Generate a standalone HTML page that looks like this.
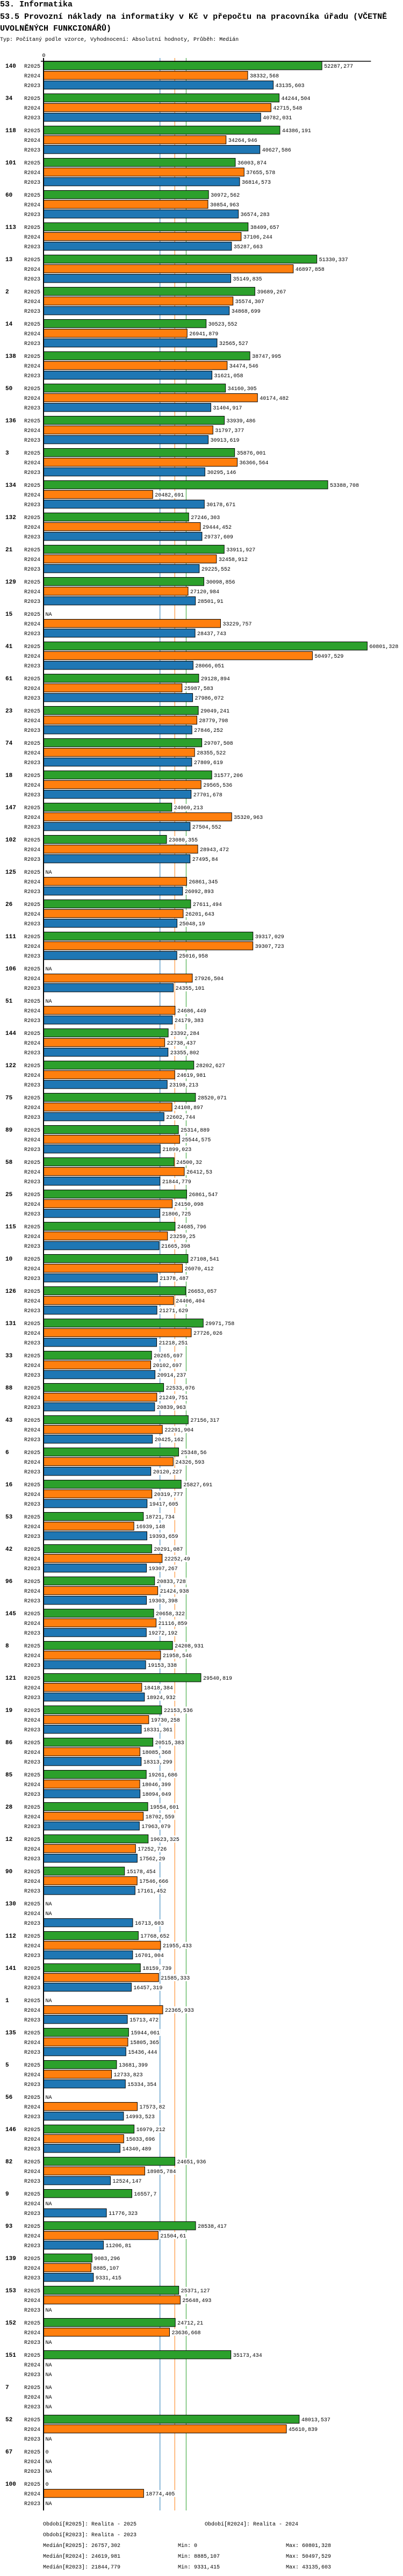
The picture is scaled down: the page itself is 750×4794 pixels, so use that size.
<!DOCTYPE html>
<html><head><meta charset="utf-8"><style>
body{margin:0;background:#fff;}
svg{display:block;font-family:"Liberation Mono","DejaVu Sans Mono",monospace;}
</style></head><body>
<svg id="chart" width="750" height="4794" viewBox="0 0 750 4794" xmlns="http://www.w3.org/2000/svg">
<text x="0" y="12" font-size="15" font-weight="bold">53. Informatika</text>
<text x="0" y="35" font-size="15" font-weight="bold">53.5 Provozní náklady na informatiky v Kč v přepočtu na pracovníka úřadu (VČETNĚ</text>
<text x="0" y="57" font-size="15" font-weight="bold">UVOLNĚNÝCH FUNKCIONÁŘŮ)</text>
<text x="0" y="76" font-size="10">Typ: Počítaný podle vzorce, Vyhodnocení: Absolutní hodnoty, Průběh: Medián</text>
<g id="plot"></g>
<g id="footer" font-size="10">
<text x="80" y="4700">Období[R2025]: Realita - 2025</text>
<text x="381" y="4700">Období[R2024]: Realita - 2024</text>
<text x="80" y="4720">Období[R2023]: Realita - 2023</text>
<text x="80" y="4740">Medián[R2025]: 26757,302</text>
<text x="331" y="4740">Min: 0</text>
<text x="532" y="4740">Max: 60801,328</text>
<text x="80" y="4760">Medián[R2024]: 24619,981</text>
<text x="331" y="4760">Min: 8885,107</text>
<text x="532" y="4760">Max: 50497,529</text>
<text x="80" y="4780">Medián[R2023]: 21844,779</text>
<text x="331" y="4780">Min: 9331,415</text>
<text x="532" y="4780">Max: 43135,603</text>
</g>
</svg>
<script>
const categories = ["140","34","118","101","60","113","13","2","14","138","50","136","3","134","132","21","129","15","41","61","23","74","18","147","102","125","26","111","106","51","144","122","75","89","58","25","115","10","126","131","33","88","43","6","16","53","42","96","145","8","121","19","86","85","28","12","90","130","112","141","1","135","5","56","146","82","9","93","139","153","152","151","7","52","67","100"];
const series2025 = [52287.277,44244.504,44386.191,36003.874,30972.562,38409.657,51330.337,39689.267,30523.552,38747.995,34160.305,33939.486,35876.001,53388.708,27246.303,33911.927,30098.856,null,60801.328,29128.894,29049.241,29707.508,31577.206,24060.213,23080.355,null,27611.494,39317.029,null,null,23392.284,28202.627,28520.071,25314.889,24500.32,26861.547,24685.796,27108.541,26653.057,29971.758,20265.697,22533.076,27156.317,25348.56,25827.691,18721.734,20291.087,20833.728,20658.322,24208.931,29540.819,22153.536,20515.383,19261.686,19554.601,19623.325,15178.454,null,17768.652,18159.739,null,15944.061,13681.399,null,16979.212,24651.936,16557.7,28538.417,9083.296,25371.127,24712.21,35173.434,null,48013.537,0,0];
const series2024 = [38332.568,42715.548,34264.946,37655.578,30854.963,37106.244,46897.858,35574.307,26941.879,34474.546,40174.482,31797.377,36366.564,20482.691,29444.452,32458.912,27120.984,33229.757,50497.529,25987.583,28779.798,28355.522,29565.536,35320.963,28943.472,26861.345,26201.643,39307.723,27926.504,24686.449,22738.437,24619.981,24108.897,25544.575,26412.53,24150.098,23259.25,26070.412,24406.404,27726.026,20102.697,21249.751,22291.904,24326.593,20319.777,16939.148,22252.49,21424.938,21116.859,21958.546,18418.384,19730.258,18085.368,18046.399,18702.559,17252.726,17546.666,null,21955.433,21585.333,22365.933,15805.365,12733.823,17573.82,15033.696,18985.784,null,21504.61,8885.107,25648.493,23636.668,null,null,45610.839,null,18774.405];
const series2023 = [43135.603,40782.031,40627.586,36814.573,36574.283,35287.663,35149.835,34868.699,32565.527,31621.058,31404.917,30913.619,30295.146,30178.671,29737.609,29225.552,28501.91,28437.743,28066.051,27986.072,27846.252,27809.619,27701.678,27504.552,27495.84,26092.893,25048.19,25016.958,24355.101,24179.383,23355.802,23198.213,22602.744,21899.023,21844.779,21806.725,21665.398,21378.487,21271.629,21218.251,20914.237,20839.963,20425.162,20120.227,19417.605,19393.659,19307.267,19303.398,19272.192,19153.338,18924.932,18331.361,18313.299,18094.049,17963.079,17562.29,17161.452,16713.603,16701.004,16457.319,15713.472,15436.444,15334.354,14993.523,14340.489,12524.147,11776.323,11206.81,9331.415,null,null,null,null,null,null,null];
const medians = [26757.302,24619.981,21844.779];
const seriesNames = ["R2025","R2024","R2023"];

const NS="http://www.w3.org/2000/svg";
const X0=81.5, SCALE=0.0099, TOP=114, GROUP=60, ROW=18, BARH=15.4;
const colors=["#2ca02c","#ff7f0e","#1f77b4"];
const xScale=v=>X0+v*SCALE;
const yRow=(g,r)=>TOP+g*GROUP+r*ROW;
const plot=document.getElementById('plot');
const bottom=yRow(categories.length-1,3)+4;
function mk(tag,attrs,parent){const e=document.createElementNS(NS,tag);for(const k in attrs)e.setAttribute(k,attrs[k]);(parent||plot).appendChild(e);return e;}
const fmt=v=>String(v).replace('.',',');

// median lines (behind)
const medOrder=[2,1,0];
medOrder.forEach(i=>{
  const l=mk('line',{x1:xScale(medians[i]),x2:xScale(medians[i]),y1:108,y2:bottom,stroke:colors[i],'stroke-width':1});
  
  
});
// top axis
const ta=mk('line',{x1:76,x2:xScale(61500),y1:TOP,y2:TOP,stroke:'#000','stroke-width':1.5});


const t0=mk('text',{x:X0,y:106,'font-size':10,'text-anchor':'middle'});
t0.textContent='0';



const all=[series2025,series2024,series2023];
categories.forEach((c,g)=>{
  const lab=mk('text',{x:10,y:yRow(g,0)+12,'font-size':11,'font-weight':'bold'});
  lab.textContent=c;
  
  
  for(let r=0;r<3;r++){
    const y=yRow(g,r);
    const sl=mk('text',{x:45,y:y+12,'font-size':10});
    sl.textContent=seriesNames[r];
    
    
    const v=all[r][g];
    let tx=X0+3, txt='NA';
    if(v!==null){
      txt=fmt(v);
      if(v>0){
        const b=mk('rect',{x:X0,y:y+0.5,width:xScale(v)-X0,height:BARH,fill:colors[r],stroke:'#000','stroke-width':1});
        
        
        tx=xScale(v)+4;
      }
    }
    const bg=mk('rect',{x:tx-1,y:y+2,width:txt.length*6+2,height:13,fill:'#fff'});
    
    
    const vt=mk('text',{x:tx,y:y+12,'font-size':10});
    vt.textContent=txt;
    
    
  }
});
const ax=mk('line',{x1:X0-0.5,x2:X0-0.5,y1:108,y2:bottom,stroke:'#000','stroke-width':2});


</script>
</body></html>
